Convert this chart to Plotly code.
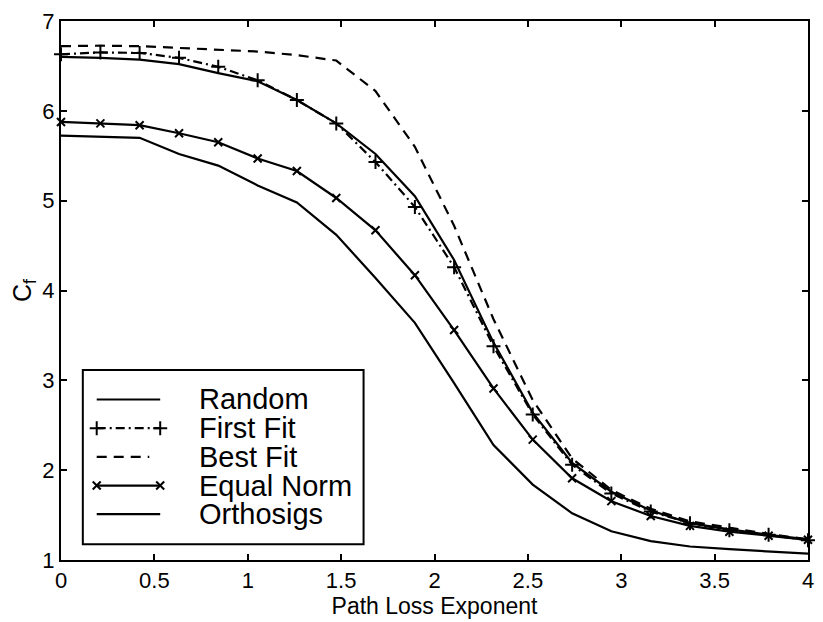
import plotly.graph_objects as go

# Path loss exponent grid
path_loss = [0.0, 0.211, 0.421, 0.632, 0.842, 1.053, 1.263, 1.474, 1.684, 1.895,
             2.105, 2.316, 2.526, 2.737, 2.947, 3.158, 3.368, 3.579, 3.789, 4.0]

# C_f for each allocation scheme
random_cf = [6.60, 6.59, 6.57, 6.52, 6.42, 6.33, 6.12, 5.86, 5.52, 5.05,
             4.34, 3.42, 2.64, 2.08, 1.76, 1.55, 1.41, 1.34, 1.28, 1.23]
first_fit_cf = [6.63, 6.65, 6.645, 6.59, 6.49, 6.34, 6.12, 5.86, 5.43, 4.93,
                4.26, 3.38, 2.62, 2.06, 1.74, 1.54, 1.41, 1.33, 1.28, 1.22]
best_fit_cf = [6.72, 6.725, 6.72, 6.70, 6.68, 6.66, 6.62, 6.56, 6.22, 5.60,
               4.72, 3.68, 2.78, 2.13, 1.78, 1.57, 1.43, 1.36, 1.29, 1.23]
equal_norm_cf = [5.876, 5.86, 5.84, 5.75, 5.65, 5.47, 5.33, 5.03, 4.67, 4.17,
                 3.56, 2.91, 2.34, 1.91, 1.655, 1.49, 1.38, 1.315, 1.27, 1.225]
orthosigs_cf = [5.725, 5.715, 5.70, 5.52, 5.39, 5.17, 4.98, 4.62, 4.14, 3.64,
                2.97, 2.28, 1.84, 1.52, 1.32, 1.21, 1.15, 1.12, 1.095, 1.07]

legend_names = ["Random", "First Fit", "Best Fit", "Equal Norm", "Orthosigs"]
x_ticks = [0, 0.5, 1, 1.5, 2, 2.5, 3, 3.5, 4]
y_ticks = [1, 2, 3, 4, 5, 6, 7]

FONT = "Liberation Sans, Arial, Helvetica, sans-serif"
LW = 2.2
BEST_DASH = "10px,7px"
FIRST_DASH = "9px,4px,2px,4px"

styles = [
    dict(mode="lines", line=dict(color="black", width=LW), marker=None),
    dict(mode="lines+markers", line=dict(color="black", width=LW, dash=FIRST_DASH),
         marker=dict(symbol="cross-thin", size=10, line=dict(color="black", width=2))),
    dict(mode="lines", line=dict(color="black", width=LW, dash=BEST_DASH), marker=None),
    dict(mode="lines+markers", line=dict(color="black", width=LW),
         marker=dict(symbol="x-thin", size=8, line=dict(color="black", width=2))),
    dict(mode="lines", line=dict(color="black", width=LW), marker=None),
]
series = [random_cf, first_fit_cf, best_fit_cf, equal_norm_cf, orthosigs_cf]

fig = go.Figure()
for name, ys, st in zip(legend_names, series, styles):
    kw = dict(x=path_loss, y=ys, name=name, mode=st["mode"], line=st["line"],
              showlegend=False, cliponaxis=False)
    if st["marker"] is not None:
        kw["marker"] = st["marker"]
    fig.add_trace(go.Scatter(**kw))

# Boxed legend in the lower-left, laid out on a pixel-unit overlay axis
plot_left, plot_right, plot_top, plot_bottom = 61, 814, 15, 560
box = dict(x0=83, x1=366, y0=368, y1=544)
key_x0, key_x1, text_x = 97, 161, 199
row_y0, row_step = 397.7, 29

fig.add_shape(type="rect", xref="x2", yref="y2",
              x0=box["x0"], x1=box["x1"], y0=box["y0"], y1=box["y1"],
              line=dict(color="black", width=2), fillcolor="white", layer="below")

for i, (name, st) in enumerate(zip(legend_names, styles)):
    ry = row_y0 + i * row_step
    kx1 = key_x1 if name != "Best Fit" else 150
    kw = dict(x=[key_x0, kx1], y=[ry, ry], mode=st["mode"], line=st["line"],
              xaxis="x2", yaxis="y2", showlegend=False, hoverinfo="skip",
              cliponaxis=False)
    if st["marker"] is not None:
        kw["marker"] = st["marker"]
    fig.add_trace(go.Scatter(**kw))
    fig.add_annotation(x=text_x, y=ry, xref="x2", yref="y2", text=name,
                       showarrow=False, xanchor="left", yanchor="middle",
                       borderpad=0,
                       font=dict(family=FONT, size=29, color="black"))

axis_common = dict(showgrid=False, zeroline=False, showline=True, linecolor="black",
                   linewidth=2, mirror="ticks", ticks="inside", ticklen=6,
                   tickwidth=1.5, tickcolor="black",
                   tickfont=dict(family=FONT, size=22, color="black"))

fig.update_layout(
    width=823, height=622,
    margin=dict(l=plot_left, r=823 - plot_right, t=plot_top, b=622 - plot_bottom),
    paper_bgcolor="white", plot_bgcolor="white",
    xaxis=dict(range=[0, 4], tickvals=x_ticks, ticktext=[f"{v:g}" for v in x_ticks],
               title=dict(text="Path Loss Exponent", standoff=2,
                          font=dict(family=FONT, size=23, color="black")),
               **axis_common),
    yaxis=dict(range=[1, 7], tickvals=y_ticks, ticktext=[str(v) for v in y_ticks],
               title=dict(text="C<sub>f</sub>", standoff=4,
                          font=dict(family=FONT, size=25, color="black")),
               **axis_common),
    xaxis2=dict(range=[plot_left, plot_right], overlaying="x", visible=False,
                fixedrange=True),
    yaxis2=dict(range=[plot_bottom, plot_top], overlaying="y", visible=False,
                fixedrange=True),
    showlegend=False,
)

fig.write_html("out.html")
